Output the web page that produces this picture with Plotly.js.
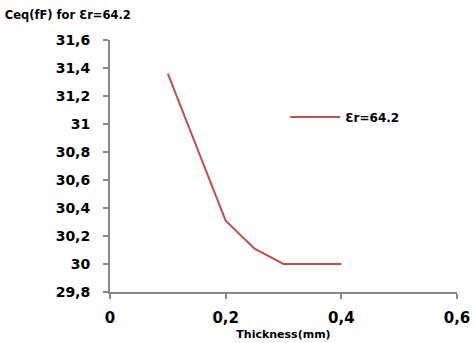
<!DOCTYPE html>
<html>
<head>
<meta charset="utf-8">
<script src="https://cdn.plot.ly/plotly-3.0.1.min.js"></script>
<style>html,body{margin:0;padding:0;background:#fff;}#chart{width:474px;height:343px;}</style>
</head>
<body>
<div id="chart"></div>
<script>
const thickness = [0.1, 0.2, 0.25, 0.3, 0.4];
const ceq = [31.36, 30.31, 30.11, 30.0, 30.0];
const seriesName = 'Ɛr=64.2';
const yTicks = [29.8, 30, 30.2, 30.4, 30.6, 30.8, 31, 31.2, 31.4, 31.6];
const yTickText = ['29,8', '30', '30,2', '30,4', '30,6', '30,8', '31', '31,2', '31,4', '31,6'];
const xTicks = [0, 0.2, 0.4, 0.6];
const xTickText = ['0', '0,2', '0,4', '0,6'];

const font = 'DejaVu Sans, Verdana, sans-serif';
Plotly.newPlot('chart', [{
  x: thickness, y: ceq, type: 'scatter', mode: 'lines', name: seriesName,
  line: {color: '#C0504D', width: 2}
}], {
  width: 474, height: 343,
  margin: {l: 110, r: 17, t: 40, b: 51},
  paper_bgcolor: '#fff', plot_bgcolor: '#fff',
  showlegend: true,
  legend: {x: 0.505, y: 0.694, xanchor: 'left', yanchor: 'middle', bgcolor: 'rgba(0,0,0,0)',
    font: {family: font, size: 12, color: '#000', weight: 'bold'}, itemwidth: 50},
  title: {text: '<b>Ceq(fF) for Ɛr=64.2</b>', x: 0.01, xanchor: 'left', y: 0.955, yanchor: 'middle',
    font: {family: font, size: 11.5, color: '#000'}},
  xaxis: {range: [0, 0.6], tickvals: xTicks, ticktext: xTickText, showgrid: false, zeroline: false,
    showline: true, linecolor: '#888', linewidth: 2, ticks: 'outside', ticklen: 5, tickcolor: '#888', tickwidth: 2,
    ticklabelstandoff: 6,
    tickfont: {family: font, size: 15, color: '#000', weight: 'bold'},
    title: {text: '<b>Thickness(mm)</b>', standoff: 4, font: {family: font, size: 11, color: '#000'}}},
  yaxis: {range: [29.8, 31.6], tickvals: yTicks, ticktext: yTickText, showgrid: false, zeroline: false,
    showline: true, linecolor: '#888', linewidth: 2, ticks: 'outside', ticklen: 5, tickcolor: '#888', tickwidth: 2,
    ticklabelstandoff: 10,
    tickfont: {family: font, size: 14, color: '#000', weight: 'bold'}}
}, {staticPlot: true});
</script>
</body>
</html>
